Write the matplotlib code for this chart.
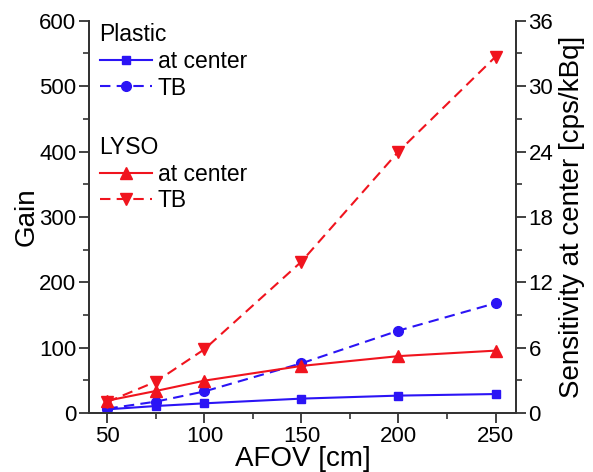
import matplotlib
matplotlib.use("Agg")
import matplotlib.pyplot as plt
from matplotlib.lines import Line2D
from matplotlib.ticker import MultipleLocator

plt.rcParams['font.family'] = ['Liberation Sans', 'DejaVu Sans']

# AFOV in cm
afov = [50, 75, 100, 150, 200, 250]

# gain values
plastic_center = [5.6, 10.7, 14.8, 22, 26.6, 29]
plastic_tb = [6.7, 17.4, 33, 76, 126, 168]
lyso_center = [18.9, 33.7, 49.5, 72, 87, 95.4]
lyso_tb = [17, 48, 97.5, 231.6, 400, 545]

blue = '#2b14f5'
red = '#f0141e'
axcol = '#333333'

fig = plt.figure(figsize=(5.93, 4.72), dpi=100)
ax = fig.add_axes([0.150, 0.125, 0.720, 0.831])
ax2 = ax.twinx()

ax.plot(afov, plastic_center, color=blue, lw=1.5, marker='s', ms=6)
ax.plot(afov, plastic_tb, color=blue, lw=1.5, marker='o', ms=7, dashes=(5, 3))
ax.plot(afov, lyso_center, color=red, lw=1.5, marker='^', ms=8)
ax.plot(afov, lyso_tb, color=red, lw=1.5, marker='v', ms=8, dashes=(5, 3))

ax.set_xlim(40.5, 260.5)
ax.set_ylim(0, 600)
ax2.set_ylim(0, 36)

ax.xaxis.set_major_locator(MultipleLocator(50))
ax.xaxis.set_minor_locator(MultipleLocator(25))
ax.yaxis.set_major_locator(MultipleLocator(100))
ax.yaxis.set_minor_locator(MultipleLocator(50))
ax2.yaxis.set_major_locator(MultipleLocator(6))
ax2.yaxis.set_minor_locator(MultipleLocator(3))

for a in (ax, ax2):
    a.spines['top'].set_visible(False)
    for s in a.spines.values():
        s.set_linewidth(1.3)
        s.set_color(axcol)
    a.tick_params(which='major', direction='out', length=7, width=1.3,
                  color=axcol, labelsize=16, pad=2)
    a.tick_params(which='minor', direction='out', length=4, width=1.2,
                  color=axcol)

ax.set_xlabel('AFOV [cm]', fontsize=20, labelpad=0)
ax.set_ylabel('Gain', fontsize=20, labelpad=0)
ax2.set_ylabel('Sensitivity at center [cps/kBq]', fontsize=20, labelpad=4)

# legend: two groups with titles
h_pc = Line2D([], [], color=blue, lw=1.5, marker='s', ms=6)
h_pt = Line2D([], [], color=blue, lw=1.5, marker='o', ms=7, dashes=(5, 3))
h_lc = Line2D([], [], color=red, lw=1.5, marker='^', ms=8)
h_lt = Line2D([], [], color=red, lw=1.5, marker='v', ms=8, dashes=(5, 3))

kw = dict(frameon=False, fontsize=16.5, title_fontsize=16.5, handlelength=2.27,
          handletextpad=0.26, labelspacing=0.17, alignment='left',
          borderaxespad=0, borderpad=0)
leg1 = ax.legend([h_pc, h_pt], ['at center', 'TB'], title='Plastic',
                 loc='upper left', bbox_to_anchor=(0.025, 0.995), **kw)
ax.add_artist(leg1)
ax.legend([h_lc, h_lt], ['at center', 'TB'], title='LYSO',
          loc='upper left', bbox_to_anchor=(0.025, 0.707), **kw)

fig.savefig('out.png', dpi=100)
